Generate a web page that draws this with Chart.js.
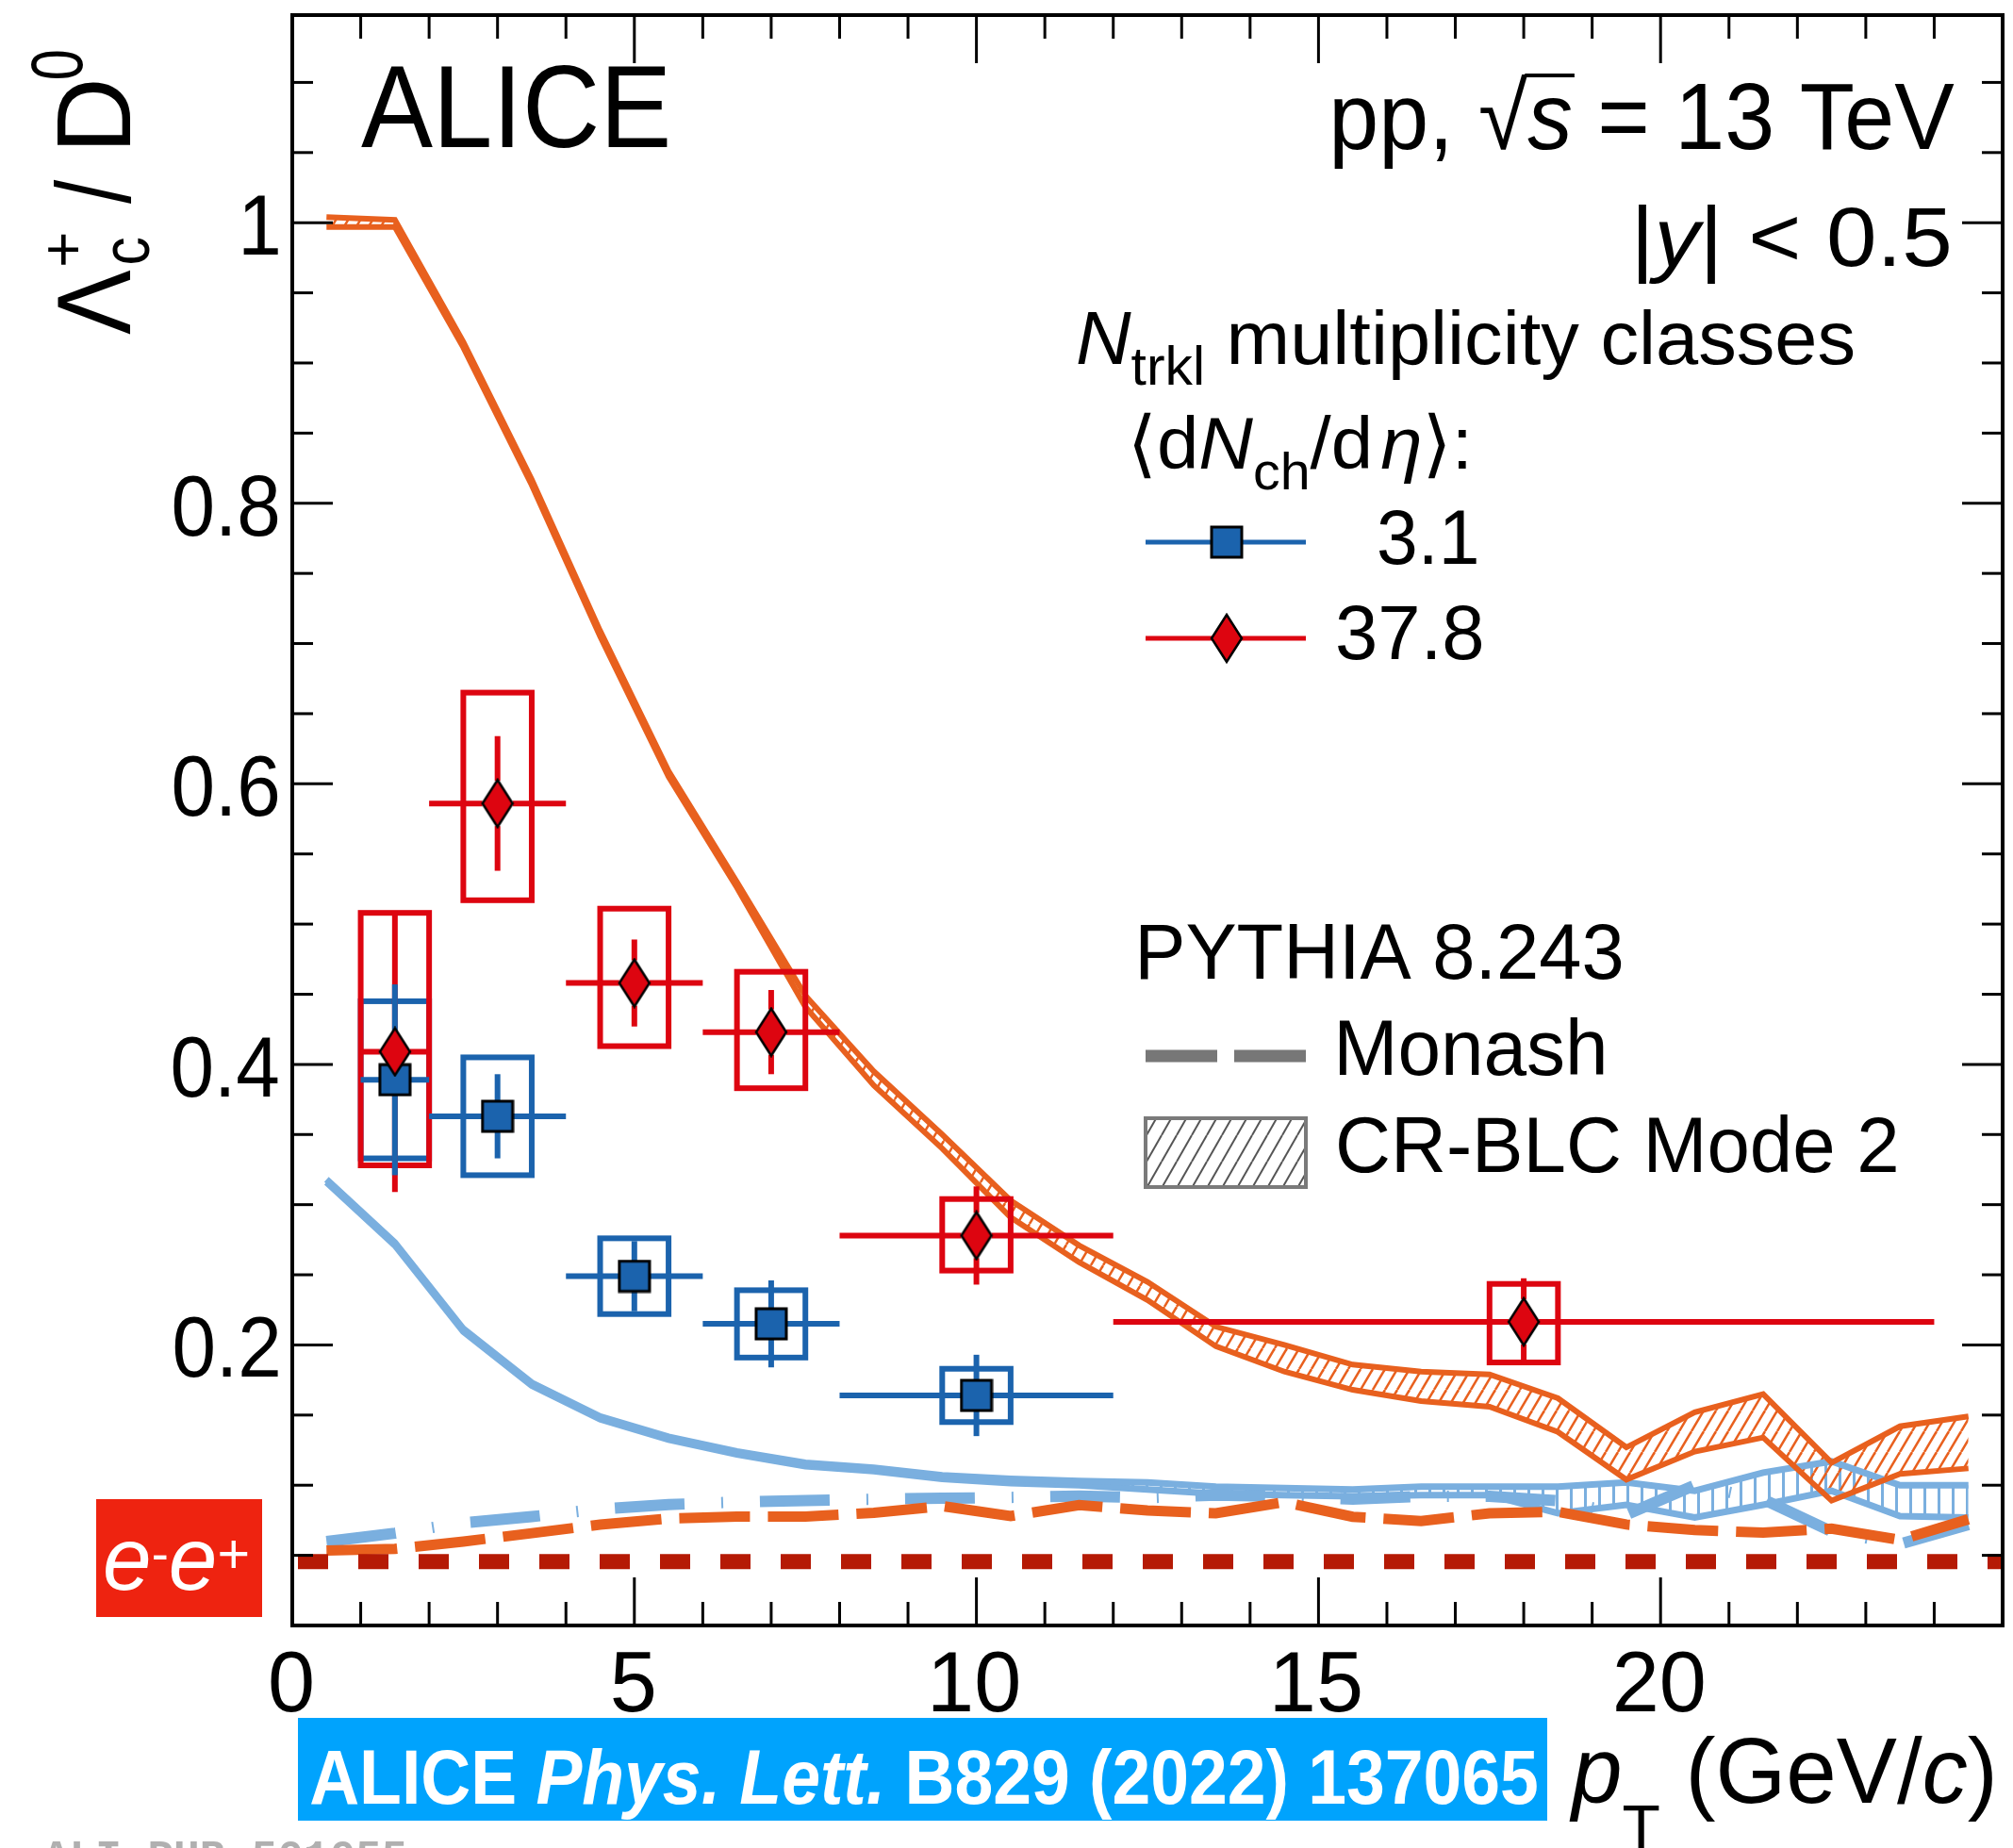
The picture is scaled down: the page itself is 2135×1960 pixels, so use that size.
<!DOCTYPE html>
<html>
<head>
<meta charset="utf-8">
<script src="https://cdn.jsdelivr.net/npm/chart.js@4.4.1/dist/chart.umd.min.js"></script>
<style>
  html, body { margin: 0; padding: 0; background: #fff; }
  canvas { display: block; }
</style>
</head>
<body>
<canvas id="ratioChart" width="2135" height="1960"></canvas>
<script>
// ── Values ──────────────────────────────────────────────────────────────────
// PYTHIA curves are given at bin centres
const modelPt = [0.5, 1.5, 2.5, 3.5, 4.5, 5.5, 6.5, 7.5, 8.5, 9.5, 10.5, 11.5,
                 12.5, 13.5, 14.5, 15.5, 16.5, 17.5, 18.5, 19.5, 20.5, 21.5, 22.5, 23.5, 24.5];

// CR-BLC Mode 2, high multiplicity (orange hatched band)
const crHighUp = [1.004, 1.002, 0.915, 0.817, 0.709, 0.609, 0.530, 0.449, 0.395, 0.350, 0.303, 0.271,
                  0.245, 0.213, 0.200, 0.186, 0.181, 0.179, 0.162, 0.127, 0.152, 0.165, 0.116, 0.142, 0.149];
const crHighLo = [0.997, 0.997, 0.911, 0.813, 0.705, 0.605, 0.526, 0.441, 0.385, 0.340, 0.291, 0.259,
                  0.232, 0.199, 0.181, 0.168, 0.160, 0.156, 0.138, 0.104, 0.124, 0.134, 0.089, 0.108, 0.112];

// CR-BLC Mode 2, low multiplicity (light blue band)
const crLowUp = [0.318, 0.273, 0.2115, 0.173, 0.149, 0.1345, 0.124, 0.116, 0.1125, 0.107, 0.1045, 0.103,
                 0.102, 0.099, 0.098, 0.097, 0.099, 0.099, 0.099, 0.102, 0.096, 0.109, 0.117, 0.100, 0.100];
const crLowLo = [0.316, 0.271, 0.2095, 0.171, 0.147, 0.1325, 0.122, 0.1135, 0.110, 0.1045, 0.1015, 0.100,
                 0.097, 0.094, 0.093, 0.092, 0.093, 0.093, 0.080, 0.086, 0.077, 0.086, 0.096, 0.078, 0.077];

// Monash (dashed)
const monashHigh = [0.0535, 0.0546, 0.0598, 0.0658, 0.0719, 0.0762, 0.0776, 0.0776, 0.0803, 0.0851, 0.078, 0.0858,
                    0.082, 0.080, 0.088, 0.0775, 0.0745, 0.080, 0.081, 0.072, 0.068, 0.0662, 0.069, 0.061, 0.0757];
const monashLow = [0.0598, 0.0658, 0.0732, 0.0776, 0.083, 0.0862, 0.088, 0.0891, 0.090, 0.0907, 0.0913, 0.0923,
                   0.091, 0.093, 0.092, 0.090, 0.092, 0.092, 0.089, 0.079, 0.100, 0.090, 0.067, 0.058, 0.072];

// e+e- reference (dotted)
const eePt = [0, 25];
const eeRatio = [0.0455, 0.0455];

// <dNch/deta> = 3.1
const lowPt     = [1.5, 3, 5, 7, 10];
const lowPtLo   = [1, 2, 4, 6, 8];
const lowPtHi   = [2, 4, 6, 8, 12];
const lowRatio  = [0.389, 0.363, 0.249, 0.215, 0.164];
const lowStat   = [0.068, 0.030, 0.025, 0.031, 0.029];
const lowSyst   = [0.056, 0.042, 0.027, 0.024, 0.019];

// <dNch/deta> = 37.8
const highPt     = [1.5, 3, 5, 7, 10, 18];
const highPtLo   = [1, 2, 4, 6, 8, 12];
const highPtHi   = [2, 4, 6, 8, 12, 24];
const highRatio  = [0.409, 0.586, 0.458, 0.423, 0.278, 0.2165];
const highStat   = [0.100, 0.048, 0.031, 0.030, 0.035, 0.031];
const highSystUp = [0.099, 0.079, 0.053, 0.043, 0.026, 0.027];
const highSystDn = [0.081, 0.069, 0.045, 0.040, 0.025, 0.029];

// axis labels
const xTickVals   = [0, 5, 10, 15, 20];
const xTickLabels = ['0', '5', '10', '15', '20'];
const yTickVals   = [0.2, 0.4, 0.6, 0.8, 1];
const yTickLabels = ['0.2', '0.4', '0.6', '0.8', '1'];

// ── Styles ──────────────────────────────────────────────────────────────────
const BLUE   = '#1b63ad';
const RED    = '#dd0510';
const LBLUE  = '#7aafdf';
const ORANGE = '#e8601e';
const EERED  = '#b51a05';
const FAM    = '"Liberation Sans", "DejaVu Sans", Arial, sans-serif';
const font = (size, style) => (style ? style + ' ' : '') + size + 'px ' + FAM;

const canvas = document.getElementById('ratioChart');
const ctx0 = canvas.getContext('2d');

function makeSquare() {
  const c = document.createElement('canvas'); c.width = 36; c.height = 36;
  const g = c.getContext('2d');
  g.fillStyle = BLUE; g.fillRect(2, 2, 32, 32);
  g.lineWidth = 3; g.strokeStyle = '#000'; g.strokeRect(2, 2, 32, 32);
  return c;
}
function makeDiamond() {
  const c = document.createElement('canvas'); c.width = 36; c.height = 54;
  const g = c.getContext('2d');
  g.beginPath(); g.moveTo(18, 2); g.lineTo(34, 27); g.lineTo(18, 52); g.lineTo(2, 27); g.closePath();
  g.fillStyle = RED; g.fill();
  g.lineWidth = 2.5; g.strokeStyle = '#000'; g.stroke();
  return c;
}
function hatchDiag(color, W, H, lw) {
  const c = document.createElement('canvas'); c.width = W; c.height = H;
  const g = c.getContext('2d');
  g.strokeStyle = color; g.lineWidth = lw;
  for (let k = -1; k <= 1; k++) { g.beginPath(); g.moveTo(k * W, H); g.lineTo(k * W + W, 0); g.stroke(); }
  return ctx0.createPattern(c, 'repeat');
}
function hatchVert(color) {
  const c = document.createElement('canvas'); c.width = 15; c.height = 4;
  const g = c.getContext('2d');
  g.fillStyle = color; g.fillRect(0, 0, 3, 4);
  return ctx0.createPattern(c, 'repeat');
}
const squareImg  = makeSquare();
const diamondImg = makeDiamond();

const pts = (xs, ys) => xs.map((x, i) => ({ x, y: ys[i] }));

// ── Text helper: draws pieces so the ink spans x0..x1 on baseline y ────────
function richText(ctx, pieces, x0, x1, y, color) {
  ctx.save();
  ctx.fillStyle = color || '#000';
  ctx.textAlign = 'left';
  ctx.textBaseline = 'alphabetic';
  let adv = 0;
  const laid = pieces.map(p => {
    ctx.font = p.f;
    const m = ctx.measureText(p.t);
    const item = { p, m, at: adv };
    adv += m.width + (p.gap || 0);
    return item;
  });
  const first = laid[0], last = laid[laid.length - 1];
  const inkL = first.at - first.m.actualBoundingBoxLeft;
  const inkR = last.at + last.m.actualBoundingBoxRight;
  const s = (x1 - x0) / (inkR - inkL);
  ctx.translate(x0 - inkL * s, y);
  ctx.scale(s, 1);
  laid.forEach(it => { ctx.font = it.p.f; ctx.fillText(it.p.t, it.at, it.p.dy || 0); });
  ctx.restore();
  return laid.map(it => ({ at: x0 + (it.at - inkL) * s, w: it.m.width * s, asc: it.m.actualBoundingBoxAscent }));
}

function line(ctx, x1, y1, x2, y2) { ctx.beginPath(); ctx.moveTo(x1, y1); ctx.lineTo(x2, y2); ctx.stroke(); }

// ── Error bars and systematic boxes, drawn under the markers ────────────────
function drawBoxes(ctx, xs, ys, s) {
  ctx.strokeStyle = s.color; ctx.lineWidth = 6;
  s.x.forEach((xv, i) => {
    const l = xs.getPixelForValue(xv - 0.5), r = xs.getPixelForValue(xv + 0.5);
    const t = ys.getPixelForValue(s.y[i] + s.sUp[i]), b = ys.getPixelForValue(s.y[i] - s.sDn[i]);
    ctx.strokeRect(l, t, r - l, b - t);
  });
}
function drawBars(ctx, xs, ys, s) {
  ctx.strokeStyle = s.color; ctx.lineWidth = 6;
  s.x.forEach((xv, i) => {
    const cx = xs.getPixelForValue(xv), cy = ys.getPixelForValue(s.y[i]);
    const l = xs.getPixelForValue(s.lo[i]), r = xs.getPixelForValue(s.hi[i]);
    const t = ys.getPixelForValue(s.y[i] + s.stat[i]), b = ys.getPixelForValue(s.y[i] - s.stat[i]);
    line(ctx, l, cy, cx - s.gapH, cy); line(ctx, cx + s.gapH, cy, r, cy);
    line(ctx, cx, t, cx, cy - s.gapV); line(ctx, cx, cy + s.gapV, cx, b);
  });
}
const lowSeries  = { color: BLUE, x: lowPt, lo: lowPtLo, hi: lowPtHi, y: lowRatio, stat: lowStat,
                     sUp: lowSyst, sDn: lowSyst, gapH: 16, gapV: 16 };
const highSeries = { color: RED, x: highPt, lo: highPtLo, hi: highPtHi, y: highRatio, stat: highStat,
                     sUp: highSystUp, sDn: highSystDn, gapH: 16, gapV: 24 };

const errorBoxes = {
  id: 'errorBoxes',
  beforeDatasetDraw(chart, args) {
    if (chart.data.datasets[args.index].label !== 'blue markers') return;
    const { ctx, scales: { x, y } } = chart;
    ctx.save();
    drawBoxes(ctx, x, y, lowSeries);
    drawBoxes(ctx, x, y, highSeries);
    drawBars(ctx, x, y, highSeries);
    drawBars(ctx, x, y, lowSeries);
    ctx.restore();
  }
};

// ── Frame, ticks, labels, legend and captions ───────────────────────────────
const decorations = {
  id: 'decorations',
  beforeDraw(chart) {
    const c = chart.ctx;
    c.save(); c.fillStyle = '#fff'; c.fillRect(0, 0, chart.width, chart.height); c.restore();
  },
  afterDraw(chart) {
    const { ctx, chartArea: a, scales: { x, y } } = chart;
    ctx.save();
    ctx.strokeStyle = '#000';
    ctx.lineWidth = 4;
    ctx.strokeRect(a.left, a.top, a.right - a.left, a.bottom - a.top);

    ctx.lineWidth = 3;
    for (let v = 1; v < 25; v++) {
      const px = x.getPixelForValue(v), len = v % 5 === 0 ? 51 : 25;
      line(ctx, px, a.bottom, px, a.bottom - len);
      line(ctx, px, a.top, px, a.top + len);
    }
    for (let k = 1; k <= 22; k++) {
      const py = y.getPixelForValue(k * 0.05), len = k % 4 === 0 ? 43 : 22;
      line(ctx, a.left, py, a.left + len, py);
      line(ctx, a.right, py, a.right - len, py);
    }

    // tick labels
    ctx.fillStyle = '#000';
    ctx.font = font(90);
    xTickVals.forEach((v, i) => {
      const m = ctx.measureText(xTickLabels[i]);
      const w = m.actualBoundingBoxLeft + m.actualBoundingBoxRight;
      const px = x.getPixelForValue(v);
      ctx.fillText(xTickLabels[i], px - w / 2 + m.actualBoundingBoxLeft - 1, 1815);
    });
    yTickVals.forEach((v, i) => {
      const m = ctx.measureText(yTickLabels[i]);
      ctx.save();
      ctx.translate(295, y.getPixelForValue(v) + 34);
      ctx.scale(0.93, 1);
      ctx.fillText(yTickLabels[i], -m.actualBoundingBoxRight, 0);
      ctx.restore();
    });

    // axis titles
    richText(ctx, [
      { t: 'p', f: font(99, 'italic') },
      { t: 'T', f: font(68), dy: 50 },
      { t: ' (GeV/', f: font(99) },
      { t: 'c', f: font(99, 'italic') },
      { t: ')', f: font(99) }
    ], 1664, 2113, 1912);

    ctx.save();
    ctx.translate(138, 355);
    ctx.rotate(-Math.PI / 2);
    richText(ctx, [{ t: 'Λ', f: font(112) }], 0, 69, 0);
    richText(ctx, [{ t: 'c', f: font(72) }], 76, 103, 20);
    richText(ctx, [{ t: '+', f: font(64) }], 74, 107, -49);
    richText(ctx, [{ t: '/', f: font(112) }], 139, 165, 0);
    richText(ctx, [{ t: 'D', f: font(112) }], 201, 268, 0);
    richText(ctx, [{ t: '0', f: font(78) }], 272, 301, -51);
    ctx.restore();

    // captions
    richText(ctx, [{ t: 'ALICE', f: font(124) }], 383, 708, 156);
    const pp = richText(ctx, [
      { t: 'pp, ', f: font(100) },
      { t: '√', f: font(100) },
      { t: 's', f: font(100, 'italic') },
      { t: ' = 13 TeV', f: font(100) }
    ], 1415, 2073, 158);
    ctx.lineWidth = 4;
    const oy = 158 - pp[1].asc + 2;
    line(ctx, pp[1].at + pp[1].w - 3, oy, pp[2].at + pp[2].w + 2, oy);

    richText(ctx, [
      { t: '|', f: font(89) },
      { t: 'y', f: font(89, 'italic') },
      { t: '| < 0.5', f: font(89) }
    ], 1737, 2067, 282);

    richText(ctx, [
      { t: 'N', f: font(80, 'italic') },
      { t: 'trkl', f: font(58), dy: 22 },
      { t: ' multiplicity classes', f: font(80) }
    ], 1143, 1966, 386);

    richText(ctx, [
      { t: '⟨d', f: font(78) },
      { t: 'N', f: font(78, 'italic') },
      { t: 'ch', f: font(56), dy: 22 },
      { t: '/d', f: font(78), gap: 8 },
      { t: 'η', f: font(78, 'italic') },
      { t: '⟩:', f: font(78) }
    ], 1202, 1555, 497);

    // data legend
    ctx.lineWidth = 5;
    ctx.strokeStyle = BLUE; line(ctx, 1215, 575, 1385, 575);
    ctx.drawImage(squareImg, 1301 - 18, 575 - 18);
    ctx.strokeStyle = RED; line(ctx, 1215, 677, 1385, 677);
    ctx.drawImage(diamondImg, 1301 - 18, 677 - 27);
    richText(ctx, [{ t: '3.1', f: font(82) }], 1463, 1566, 598);
    richText(ctx, [{ t: '37.8', f: font(82) }], 1419, 1572, 699);

    // model legend
    richText(ctx, [{ t: 'PYTHIA 8.243', f: font(84) }], 1209, 1720, 1038);
    ctx.strokeStyle = '#777'; ctx.lineWidth = 13; ctx.setLineDash([76, 18]);
    line(ctx, 1215, 1120, 1385, 1120);
    ctx.setLineDash([]);
    richText(ctx, [{ t: 'Monash', f: font(84) }], 1420, 1701, 1140);
    ctx.fillStyle = hatchDiag('#555', 16, 28, 2);
    ctx.fillRect(1215, 1186, 170, 73);
    ctx.strokeStyle = '#7a7a7a'; ctx.lineWidth = 4;
    ctx.strokeRect(1215, 1186, 170, 73);
    richText(ctx, [{ t: 'CR-BLC Mode 2', f: font(84) }], 1420, 2011, 1243);

    // e+e- tag
    ctx.fillStyle = '#ee2310';
    ctx.fillRect(102, 1590, 176, 125);
    richText(ctx, [
      { t: 'e', f: font(94, 'italic') },
      { t: '-', f: font(55), dy: -19 },
      { t: 'e', f: font(94, 'italic') },
      { t: '+', f: font(60), dy: -18 }
    ], 112, 263, 1686, '#fff');

    // publication banner
    ctx.fillStyle = '#00a3fd';
    ctx.fillRect(316, 1822, 1325, 109);
    richText(ctx, [
      { t: 'ALICE ', f: font(81, 'bold') },
      { t: 'Phys. Lett. ', f: font(81, 'italic bold') },
      { t: 'B829 (2022) 137065', f: font(81, 'bold') }
    ], 330, 1630, 1913, '#fff');

    // figure id, mostly cut off at the bottom edge
    ctx.fillStyle = '#b0b0b0';
    ctx.font = 'bold 46px "Liberation Mono", monospace';
    ctx.textBaseline = 'top';
    ctx.fillText('ALI-PUB-501055', 46, 1949);
    ctx.restore();
  }
};

// ── Chart ───────────────────────────────────────────────────────────────────
const ratioChart = new Chart(ctx0, {
  type: 'line',
  data: {
    datasets: [
      { label: 'red markers', type: 'scatter', data: pts(highPt, highRatio),
        pointStyle: diamondImg, pointRadius: 10, order: 0 },
      { label: 'blue markers', type: 'scatter', data: pts(lowPt, lowRatio),
        pointStyle: squareImg, pointRadius: 10, order: 1 },
      { label: 'e+e-', data: pts(eePt, eeRatio), borderColor: EERED, borderWidth: 16,
        borderDash: [32, 32], borderDashOffset: 58, clip: 0, order: 2 },
      { label: 'Monash high', data: pts(modelPt, monashHigh), borderColor: ORANGE, borderWidth: 11,
        borderDash: [75, 19], order: 3 },
      { label: 'CR-BLC high up', data: pts(modelPt, crHighUp), borderColor: ORANGE, borderWidth: 6,
        fill: '+1', backgroundColor: hatchDiag(ORANGE, 13, 22, 2.5), order: 4 },
      { label: 'CR-BLC high lo', data: pts(modelPt, crHighLo), borderColor: ORANGE, borderWidth: 6,
        fill: false, order: 4 },
      { label: 'Monash low', data: pts(modelPt, monashLow), borderColor: LBLUE, borderWidth: 12,
        borderDash: [74, 39, 2, 39], order: 5 },
      { label: 'CR-BLC low up', data: pts(modelPt, crLowUp), borderColor: LBLUE, borderWidth: 7,
        fill: '+1', backgroundColor: hatchVert(LBLUE), order: 6 },
      { label: 'CR-BLC low lo', data: pts(modelPt, crLowLo), borderColor: LBLUE, borderWidth: 7,
        fill: false, order: 6 }
    ]
  },
  options: {
    responsive: false,
    animation: false,
    events: [],
    layout: { padding: { left: 310, right: 11, top: 16, bottom: 236 } },
    elements: { point: { radius: 0 }, line: { tension: 0 } },
    scales: {
      x: { type: 'linear', min: 0, max: 25, display: false },
      y: { type: 'linear', min: 0, max: 1.148, display: false }
    },
    plugins: {
      legend: { display: false },
      tooltip: { enabled: false },
      filler: { drawTime: 'beforeDatasetsDraw' }
    }
  },
  plugins: [decorations, errorBoxes]
});
</script>
</body>
</html>
